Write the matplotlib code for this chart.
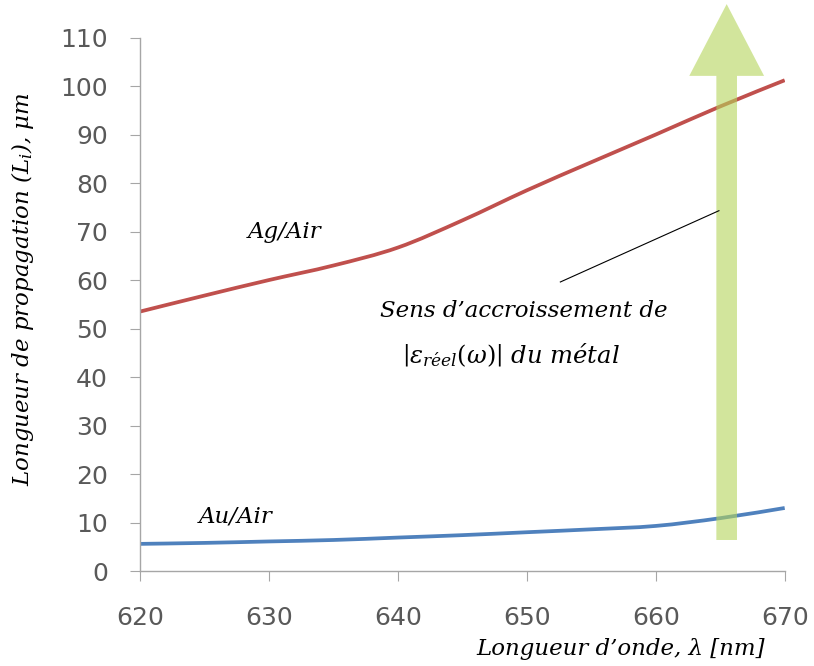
import matplotlib.pyplot as plt
from matplotlib.patches import FancyArrow, PathPatch
from matplotlib.path import Path

plt.rcParams['mathtext.fontset'] = 'dejavuserif'

# data
wavelength = [620, 625, 630, 635, 640, 645, 650, 655, 660, 665, 670]
ag_air = [53.5, 56.8, 60.0, 63.0, 66.7, 72.3, 78.5, 84.3, 90.0, 95.8, 101.2]
au_air = [5.6, 5.8, 6.1, 6.4, 6.9, 7.4, 8.0, 8.6, 9.3, 10.9, 13.0]

xticks = [620, 630, 640, 650, 660, 670]
yticks = list(range(0, 111, 10))


def smooth_line(ax, x, y, **kw):
    # Excel-style smoothed line: Catmull-Rom segments as cubic Beziers
    n = len(x)
    verts = [(x[0], y[0])]
    codes = [Path.MOVETO]
    for i in range(n - 1):
        x0, y0 = (x[i - 1], y[i - 1]) if i > 0 else (x[i], y[i])
        x3, y3 = (x[i + 2], y[i + 2]) if i + 2 < n else (x[i + 1], y[i + 1])
        c1 = (x[i] + (x[i + 1] - x0) / 6, y[i] + (y[i + 1] - y0) / 6)
        c2 = (x[i + 1] - (x3 - x[i]) / 6, y[i + 1] - (y3 - y[i]) / 6)
        verts += [c1, c2, (x[i + 1], y[i + 1])]
        codes += [Path.CURVE4] * 3
    ax.add_patch(PathPatch(Path(verts, codes), fill=False, capstyle='butt', **kw))


fig = plt.figure(figsize=(8.14, 6.66), dpi=100)
fig.patch.set_facecolor('white')
ax = fig.add_axes([0.172, 0.1426, 0.792, 0.801])

smooth_line(ax, wavelength, ag_air, edgecolor='#C0504D', lw=2.7, zorder=2)
smooth_line(ax, wavelength, au_air, edgecolor='#4F81BD', lw=2.7, zorder=2)

ax.set_xlim(620, 670)
ax.set_ylim(0, 110)
ax.set_xticks(xticks)
ax.set_yticks(yticks)

for s in ['top', 'right']:
    ax.spines[s].set_visible(False)
for s in ['left', 'bottom']:
    ax.spines[s].set_color('#A6A6A6')
    ax.spines[s].set_linewidth(1.0)

ax.tick_params(axis='x', direction='out', length=7, color='#A6A6A6',
               labelcolor='#595959', labelsize=18, pad=18)
ax.tick_params(axis='y', direction='out', length=7, color='#A6A6A6',
               labelcolor='#595959', labelsize=18, pad=16)

serif = ['DejaVu Serif']
fs = 16.5

# big green arrow
arrow = FancyArrow(665.5, 6.4, 0, 110.5, width=1.6, head_width=5.8, head_length=14.8,
                   length_includes_head=True, color='#B5D55A', alpha=0.6, lw=0,
                   clip_on=False, zorder=3)
ax.add_patch(arrow)

# pointer line
ax.plot([652.6, 664.9], [59.6, 74.3], color='black', lw=0.8, zorder=4)

ax.text(631.2, 70, 'Ag/Air', fontsize=fs, style='italic', family=serif,
        ha='center', va='center')
ax.text(627.4, 11.3, 'Au/Air', fontsize=fs, style='italic', family=serif,
        ha='center', va='center')
ax.text(649.8, 53.7, "Sens d\u2019accroissement de", fontsize=fs, style='italic',
        family=serif, ha='center', va='center')
ax.text(648.8, 44.6, r"$\left|\varepsilon_{r\'eel}\left(\omega\right)\right|$" + " du m\u00e9tal",
        fontsize=fs + 1, style='italic', family=serif, ha='center', va='center')

ax.text(-0.183, 0.528, r'Longueur de propagation ($L_i$), $\mu$m', transform=ax.transAxes,
        fontsize=fs, style='italic', family=serif, rotation=90, ha='center', va='center')
ax.text(0.969, -0.125, "Longueur d\u2019onde, \u03bb [nm]", transform=ax.transAxes,
        fontsize=fs, style='italic', family=serif, ha='right', va='top')

fig.savefig('out.png', dpi=100, facecolor='white')
